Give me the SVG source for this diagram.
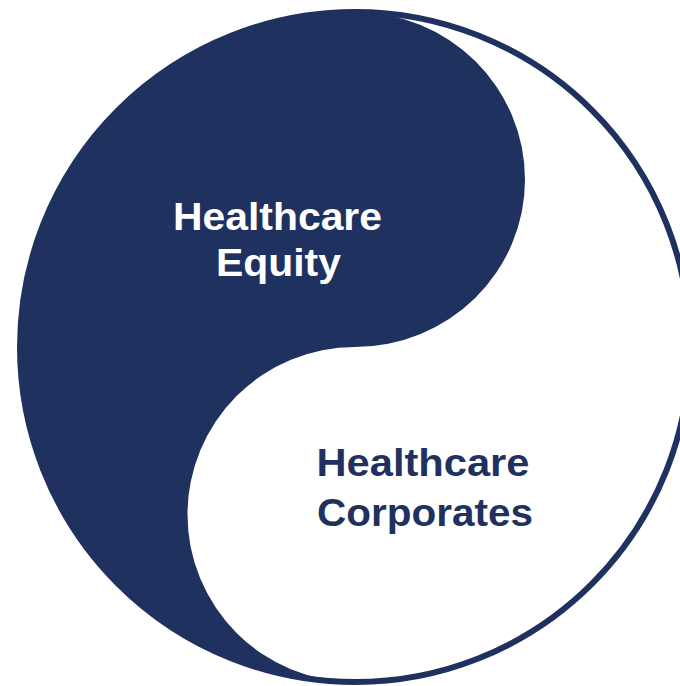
<svg xmlns="http://www.w3.org/2000/svg" width="680" height="686" viewBox="0 0 680 686">
<style>
.navy{fill:#1F315E}
.ring{fill:none;stroke:#1F315E;stroke-width:6}
.lbl{font-family:"Liberation Sans",Arial,sans-serif;font-weight:bold;font-size:38px;text-anchor:middle}
.w{fill:#FFFFFF}
.d{fill:#1F315E}
</style>
<rect width="680" height="686" fill="#FFFFFF"/>
<g id="yin-yang">
<circle cx="355" cy="347" r="335" fill="#FFFFFF"/>
<path class="navy" d="M355,12 A335,335 0 0 0 355,682 A167.5,167.5 0 0 1 355,347 A170,167.5 0 0 0 355,12 Z"/>
<circle class="ring" cx="355" cy="347" r="335"/>
</g>
<g id="healthcare-equity">
<text class="lbl w" x="277.5" y="229.5" textLength="209" lengthAdjust="spacingAndGlyphs">Healthcare</text>
<text class="lbl w" x="278.5" y="276" textLength="125" lengthAdjust="spacingAndGlyphs">Equity</text>
</g>
<g id="healthcare-corporates">
<text class="lbl d" x="423" y="476" textLength="213" lengthAdjust="spacingAndGlyphs">Healthcare</text>
<text class="lbl d" x="425" y="526" textLength="216" lengthAdjust="spacingAndGlyphs">Corporates</text>
</g>
</svg>
